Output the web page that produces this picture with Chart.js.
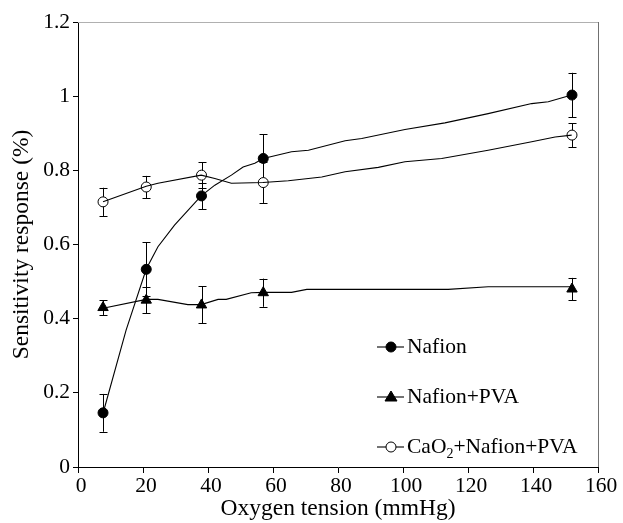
<!DOCTYPE html>
<html>
<head>
<meta charset="utf-8">
<script src="https://cdn.jsdelivr.net/npm/chart.js@4.4.1/dist/chart.umd.min.js"></script>
<style>
  html, body { margin: 0; padding: 0; background: #fff; }
  #wrap { width: 623px; height: 523px; }
</style>
</head>
<body>
<div id="wrap"><canvas id="sensChart" width="623" height="523"></canvas></div>
<script>
// measured points (mmHg)
const oxygenTension = [7.7, 21, 38, 57, 152];

const nafionY = [0.146, 0.533, 0.731, 0.832, 1.003];
const nafionErr = [0.051, 0.073, 0.036, 0.065, 0.06];

const pvaY = [0.430, 0.450, 0.437, 0.470, 0.480];
const pvaErr = [0.02, 0.035, 0.05, 0.038, 0.03];

const caoY = [0.715, 0.755, 0.787, 0.767, 0.895];
const caoErr = [0.038, 0.03, 0.035, 0.055, 0.032];

// fitted curves
const nafionCurveX = [7.7, 14.8, 21, 24.6, 29.7, 37.9, 42.1, 47.2, 50.8, 54.4, 57, 65.7, 70.9, 82.2, 87.3, 100.6, 112.9, 126.2, 139.6, 144.7, 151.9];
const nafionCurveY = [0.145, 0.369, 0.534, 0.594, 0.652, 0.731, 0.760, 0.787, 0.809, 0.819, 0.832, 0.850, 0.854, 0.880, 0.886, 0.910, 0.928, 0.953, 0.980, 0.985, 1.003];

const pvaCurveX = [7.7, 21, 24.6, 33.8, 37.9, 43.1, 45.6, 53.3, 57, 65.7, 70.4, 113.9, 126.2, 151.9];
const pvaCurveY = [0.428, 0.452, 0.452, 0.438, 0.438, 0.452, 0.452, 0.470, 0.471, 0.471, 0.479, 0.479, 0.486, 0.486];

const caoCurveX = [7.7, 21, 24.6, 37.9, 42.1, 47.2, 56.9, 64.7, 75, 82.2, 92.4, 100.6, 111.9, 126.2, 139.6, 146.8, 151.9];
const caoCurveY = [0.715, 0.757, 0.765, 0.787, 0.778, 0.765, 0.767, 0.772, 0.782, 0.796, 0.808, 0.823, 0.832, 0.854, 0.877, 0.890, 0.895];

const xTicks = [0, 20, 40, 60, 80, 100, 120, 140, 160];
const yTicks = [0, 0.2, 0.4, 0.6, 0.8, 1, 1.2];

const seriesLabels = ['Nafion', 'Nafion+PVA', 'CaO₂+Nafion+PVA'];

const FONT = '"Liberation Serif", "Times New Roman", serif';

function pts(xs, ys) {
    return xs.map((x, i) => ({ x: x, y: ys[i] }));
}

function curve(xs, ys) {
    return {
        data: pts(xs, ys),
        showLine: true,
        borderColor: '#000',
        borderWidth: 1.1,
        pointRadius: 0,
        tension: 0,
        fill: false
    };
}

function markers(ys, errs, style, fillColor, label) {
    return {
        label: label,
        data: pts(oxygenTension, ys),
        errors: errs,
        showLine: false,
        pointStyle: style,
        pointRadius: style === 'triangle' ? 6 : 5,
        pointBackgroundColor: fillColor,
        pointBorderColor: '#000',
        pointBorderWidth: 1
    };
}

const markerSets = [
    markers(nafionY, nafionErr, 'circle', '#000', seriesLabels[0]),
    markers(pvaY, pvaErr, 'triangle', '#000', seriesLabels[1]),
    markers(caoY, caoErr, 'circle', '#fff', seriesLabels[2])
];

// error bars, drawn under the lines and markers
const errorBars = {
    id: 'errorBars',
    beforeDatasetsDraw(chart) {
        const { ctx, scales: { x, y } } = chart;
        ctx.save();
        ctx.strokeStyle = '#000';
        ctx.lineWidth = 1;
        chart.data.datasets.forEach(ds => {
            if (!ds.errors) return;
            ds.data.forEach((p, i) => {
                const e = ds.errors[i];
                const px = Math.round(x.getPixelForValue(p.x)) + 0.5;
                const top = y.getPixelForValue(p.y + e);
                const bot = y.getPixelForValue(p.y - e);
                ctx.beginPath();
                ctx.moveTo(px, top);
                ctx.lineTo(px, bot);
                ctx.moveTo(px - 4, Math.round(top) + 0.5);
                ctx.lineTo(px + 4, Math.round(top) + 0.5);
                ctx.moveTo(px - 4, Math.round(bot) + 0.5);
                ctx.lineTo(px + 4, Math.round(bot) + 0.5);
                ctx.stroke();
            });
        });
        ctx.restore();
    }
};

// top/right frame in grey plus the legend inside the plot
const frameAndLegend = {
    id: 'frameAndLegend',
    afterDraw(chart) {
        const { ctx, chartArea: a } = chart;
        ctx.save();
        ctx.lineWidth = 1;
        ctx.strokeStyle = '#b0b0b0';
        ctx.beginPath();
        ctx.moveTo(a.left, a.top + 0.5);
        ctx.lineTo(a.right, a.top + 0.5);
        ctx.stroke();
        ctx.strokeStyle = '#707070';
        ctx.beginPath();
        ctx.moveTo(a.right + 0.5, a.top);
        ctx.lineTo(a.right + 0.5, a.bottom);
        ctx.stroke();

        const rows = [a.bottom - 120, a.bottom - 70, a.bottom - 20];
        const lx = a.right - 221;
        markerSets.forEach((ds, i) => {
            const ry = rows[i];
            ctx.strokeStyle = '#000';
            ctx.lineWidth = 1.1;
            ctx.beginPath();
            ctx.moveTo(lx, ry);
            ctx.lineTo(lx + 27, ry);
            ctx.stroke();
            ctx.fillStyle = ds.pointBackgroundColor;
            ctx.lineWidth = 1;
            ctx.beginPath();
            if (ds.pointStyle === 'triangle') {
                ctx.moveTo(lx + 14, ry - 6);
                ctx.lineTo(lx + 20, ry + 4);
                ctx.lineTo(lx + 8, ry + 4);
                ctx.closePath();
            } else {
                ctx.arc(lx + 14, ry, 5, 0, Math.PI * 2);
            }
            ctx.fill();
            ctx.stroke();

            // label, with a real subscript for CaO2
            ctx.fillStyle = '#000';
            ctx.textBaseline = 'middle';
            let tx = lx + 30;
            const parts = ds.label.split('₂');
            parts.forEach((part, k) => {
                ctx.font = '21.5px ' + FONT;
                ctx.fillText(part, tx, ry);
                tx += ctx.measureText(part).width;
                if (k < parts.length - 1) {
                    ctx.font = '14px ' + FONT;
                    ctx.fillText('2', tx, ry + 7);
                    tx += ctx.measureText('2').width;
                }
            });
        });
        ctx.restore();
    }
};

new Chart(document.getElementById('sensChart'), {
    type: 'scatter',
    data: {
        datasets: [
            curve(nafionCurveX, nafionCurveY),
            curve(pvaCurveX, pvaCurveY),
            curve(caoCurveX, caoCurveY),
            ...markerSets
        ]
    },
    options: {
        responsive: false,
        animation: false,
        layout: { padding: { top: 22, right: 25, left: 0, bottom: 0 } },
        plugins: {
            legend: { display: false },
            tooltip: { enabled: false }
        },
        scales: {
            x: {
                type: 'linear',
                min: 0,
                max: 160,
                afterBuildTicks: s => { s.ticks = xTicks.map(v => ({ value: v })); },
                afterFit: s => { s.height = 56; },
                grid: { drawOnChartArea: false, drawTicks: true, tickLength: 6, color: '#000' },
                border: { color: '#000', width: 1 },
                ticks: { color: '#000', font: { family: FONT, size: 21.5 }, padding: 0, maxRotation: 0, labelOffset: 3, callback: v => String(v) },
                title: { display: true, text: 'Oxygen tension (mmHg)', color: '#000', font: { family: FONT, size: 23.5 }, padding: { top: 0, bottom: 0 } }
            },
            y: {
                min: 0,
                max: 1.2,
                afterBuildTicks: s => { s.ticks = yTicks.map(v => ({ value: v })); },
                afterFit: s => { s.width = 78; },
                grid: { drawOnChartArea: false, drawTicks: true, tickLength: 5, color: '#000' },
                border: { color: '#000', width: 1 },
                ticks: { color: '#000', font: { family: FONT, size: 21.5 }, padding: 3, callback: v => String(v) },
                title: { display: true, text: 'Sensitivity response (%)', color: '#000', font: { family: FONT, size: 23.5 }, padding: { top: 8, bottom: 0 } }
            }
        }
    },
    plugins: [errorBars, frameAndLegend]
});
</script>
</body>
</html>
